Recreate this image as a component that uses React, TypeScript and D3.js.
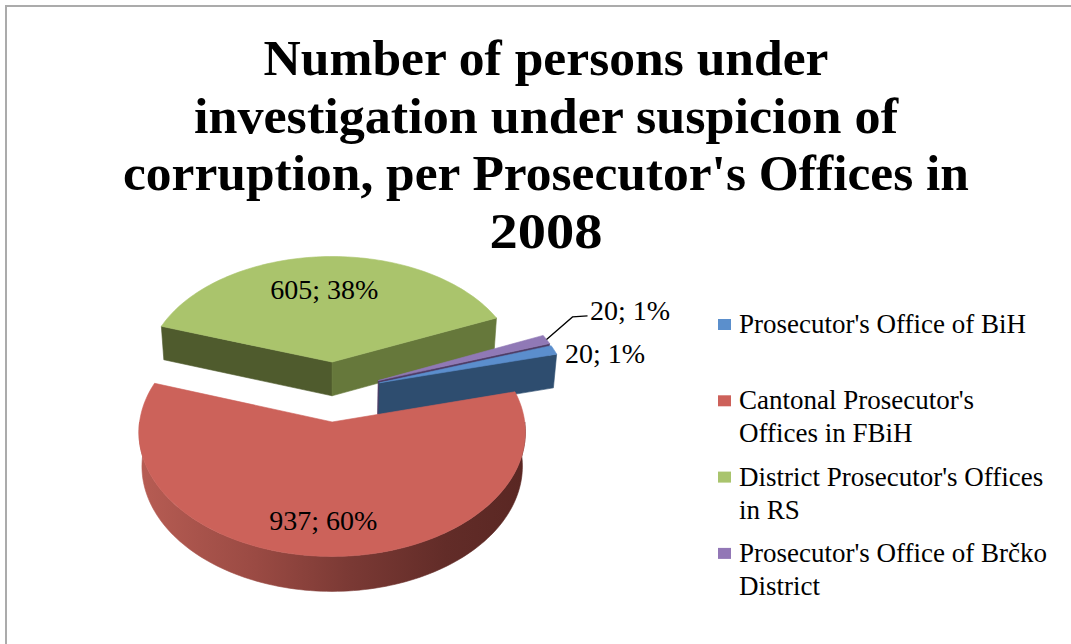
import React from "react";
import * as d3 from "d3";

// ---------- data ----------
const categories = [
  "Prosecutor's Office of BiH",
  "Cantonal Prosecutor's Offices in FBiH",
  "District Prosecutor's Offices in RS",
  "Prosecutor's Office of Brčko District",
];
const values = [20, 937, 605, 20];
const percentLabels = ["1%", "60%", "38%", "1%"];
const legendLines = [
  ["Prosecutor's Office of BiH"],
  ["Cantonal Prosecutor's", "Offices in FBiH"],
  ["District Prosecutor's Offices", "in RS"],
  ["Prosecutor's Office of Brčko", "District"],
];
const titleLines = [
  "Number of persons under",
  "investigation under suspicion of",
  "corruption, per Prosecutor's Offices in",
  "2008",
];

// ---------- styles ----------
const topColors = ["#5B8ECD", "#CC625A", "#AAC46C", "#9079B6"];
const swatchColors = ["#5B8FCC", "#CD615A", "#A9C46D", "#9277B6"];
const startWallColors = ["#2E4D6F", "#7A3A35", "#4F5B2D", "#4E3D66"];
const endWallColors = ["#2E4D6F", "#7A3A35", "#66783B", "#4E3D66"];
const outerWallColors = ["#2E4D6F", "url(#redWall)", "#5E6E35", "#4E3D66"];
const labelRadius = [1.0, 0.75, 0.67, 1.0];
const FONT = "'Liberation Serif', 'Times New Roman', serif";

// 3D projection parameters
const F = 1830;
const D = 9.7;
const ELEV = Math.asin(0.628);
const sA = Math.sin(ELEV);
const cA = Math.cos(ELEV);
const CX = 334;
const CY = 391.4;
const EXPLODE = 0.253;
const DEPTH = 0.235;
const ROT = (71 * Math.PI) / 180;

function proj(X: number, Y: number, Z: number): [number, number] {
  const yc = Y * cA + Z * sA;
  const zc = D + Z * cA - Y * sA;
  return [CX + (F * X) / zc, CY - (F * yc) / zc];
}

const line = d3.line<[number, number]>().x((d) => d[0]).y((d) => d[1]);

function arcPts(ox: number, oz: number, a0: number, a1: number, Y: number) {
  const n = Math.max(2, Math.ceil(Math.abs(a1 - a0) / (Math.PI / 120)));
  const pts: [number, number][] = [];
  for (let i = 0; i <= n; i++) {
    const a = a0 + ((a1 - a0) * i) / n;
    pts.push(proj(ox + Math.sin(a), Y, oz + Math.cos(a)));
  }
  return pts;
}

export default function App() {
  const pie = d3
    .pie<number>()
    .sort(null)
    .startAngle(ROT)
    .endAngle(ROT + 2 * Math.PI)
    .value((d) => d);
  const arcs = pie(values).map((a, i) => {
    const mid = (a.startAngle + a.endAngle) / 2;
    return {
      i,
      a0: a.startAngle,
      a1: a.endAngle,
      mid,
      ox: EXPLODE * Math.sin(mid),
      oz: EXPLODE * Math.cos(mid),
    };
  });
  const order = [...arcs].sort((p, q) => Math.cos(q.mid) - Math.cos(p.mid));

  const redArc = arcs[1];
  const left = proj(redArc.ox - 1, -DEPTH, redArc.oz);
  const right = proj(redArc.ox + 1, -DEPTH, redArc.oz);

  const pieces: React.ReactNode[] = [];
  order.forEach((s) => {
    const { i, a0, a1, ox, oz } = s;
    const c0 = proj(ox, 0, oz);
    const c1 = proj(ox, -DEPTH, oz);
    // radial walls
    const walls: { a: number; color: string; visible: boolean }[] = [
      { a: a0, color: startWallColors[i], visible: Math.cos(a0 - Math.PI / 2) < 0 },
      { a: a1, color: endWallColors[i], visible: Math.cos(a1 + Math.PI / 2) < 0 },
    ];
    walls.forEach((w, k) => {
      if (!w.visible) return;
      const t = proj(ox + Math.sin(w.a), 0, oz + Math.cos(w.a));
      const b = proj(ox + Math.sin(w.a), -DEPTH, oz + Math.cos(w.a));
      pieces.push(
        <path
          key={`w${i}-${k}`}
          d={line([c0, t, b, c1])! + "Z"}
          fill={w.color}
          stroke={w.color}
          strokeWidth={0.6}
        />
      );
    });
    // outer curved wall (front-facing part)
    for (let k = -1; k <= 2; k++) {
      const lo = Math.max(a0, Math.PI / 2 + 2 * Math.PI * k);
      const hi = Math.min(a1, (3 * Math.PI) / 2 + 2 * Math.PI * k);
      if (lo < hi) {
        const topP = arcPts(ox, oz, lo, hi, 0);
        const botP = arcPts(ox, oz, hi, lo, -DEPTH);
        pieces.push(
          <path
            key={`o${i}-${k}`}
            d={line([...topP, ...botP])! + "Z"}
            fill={outerWallColors[i]}
            stroke={outerWallColors[i]}
            strokeWidth={0.6}
          />
        );
      }
    }
    // top face
    const topPts = [c0, ...arcPts(ox, oz, a0, a1, 0)];
    pieces.push(
      <path
        key={`t${i}`}
        d={line(topPts)! + "Z"}
        fill={topColors[i]}
        stroke={topColors[i]}
        strokeWidth={0.6}
      />
    );
  });

  // data labels
  const labels: React.ReactNode[] = [];
  arcs.forEach((s) => {
    const { i, mid, ox, oz } = s;
    const txt = `${values[i]}; ${percentLabels[i]}`;
    const r = labelRadius[i];
    const p = proj(ox + r * Math.sin(mid), 0, oz + r * Math.cos(mid));
    if (i === 1 || i === 2) {
      labels.push(
        <text key={`l${i}`} x={p[0] - 3} y={p[1] + 9} textAnchor="middle" fontSize={28} fontFamily={FONT} fill="#000">
          {txt}
        </text>
      );
    } else if (i === 0) {
      labels.push(
        <text key={`l${i}`} x={p[0] + 11} y={p[1] + 13} fontSize={28} fontFamily={FONT} fill="#000">
          {txt}
        </text>
      );
    } else {
      const elbow: [number, number] = [p[0] + 26, p[1] - 22.5];
      const end: [number, number] = [p[0] + 41, p[1] - 23.5];
      labels.push(
        <g key={`l${i}`}>
          <path d={line([p, elbow, end])!} fill="none" stroke="#000" strokeWidth={1.3} />
          <text x={p[0] + 43.5} y={p[1] - 19.5} fontSize={28} fontFamily={FONT} fill="#000">
            {txt}
          </text>
        </g>
      );
    }
  });

  // legend
  const legendY = d3.scaleLinear().domain([0, 1]).range([333, 409.3]);
  const titleY = d3.scaleLinear().domain([0, 1]).range([75, 132.7]);
  const titleWidths = [565, 704, 846, 113];

  return (
    <svg
      width={1071}
      height={644}
      style={{ position: "absolute", left: 0, top: 0, background: "#fff" }}
    >
      <defs>
        <linearGradient id="redWall" gradientUnits="userSpaceOnUse" x1={left[0]} y1={0} x2={right[0]} y2={0}>
          <stop offset="0" stopColor="#B65C53" />
          <stop offset="0.3" stopColor="#9A4A43" />
          <stop offset="0.55" stopColor="#7A3934" />
          <stop offset="0.8" stopColor="#622C28" />
          <stop offset="1" stopColor="#5A2723" />
        </linearGradient>
      </defs>
      <rect x={0} y={0} width={1071} height={644} fill="#fff" />
      <path d="M6,644 V6 H1071" fill="none" stroke="#ABABAB" strokeWidth={2} />
      {titleLines.map((t, k) => (
        <text
          key={`tt${k}`}
          x={546}
          y={titleY(k)}
          textAnchor="middle"
          fontSize={50}
          fontWeight="bold"
          fontFamily={FONT}
          textLength={titleWidths[k]}
          lengthAdjust="spacingAndGlyphs"
          fill="#000"
        >
          {t}
        </text>
      ))}
      {pieces}
      {labels}
      {categories.map((c, i) => (
        <g key={`lg${i}`}>
          <rect x={718} y={legendY(i) - 14} width={13} height={11} fill={swatchColors[i]} />
          {legendLines[i].map((ln, k) => (
            <text key={k} x={739} y={legendY(i) + k * 33} fontSize={27} fontFamily={FONT} fill="#000">
              {ln}
            </text>
          ))}
        </g>
      ))}
    </svg>
  );
}
